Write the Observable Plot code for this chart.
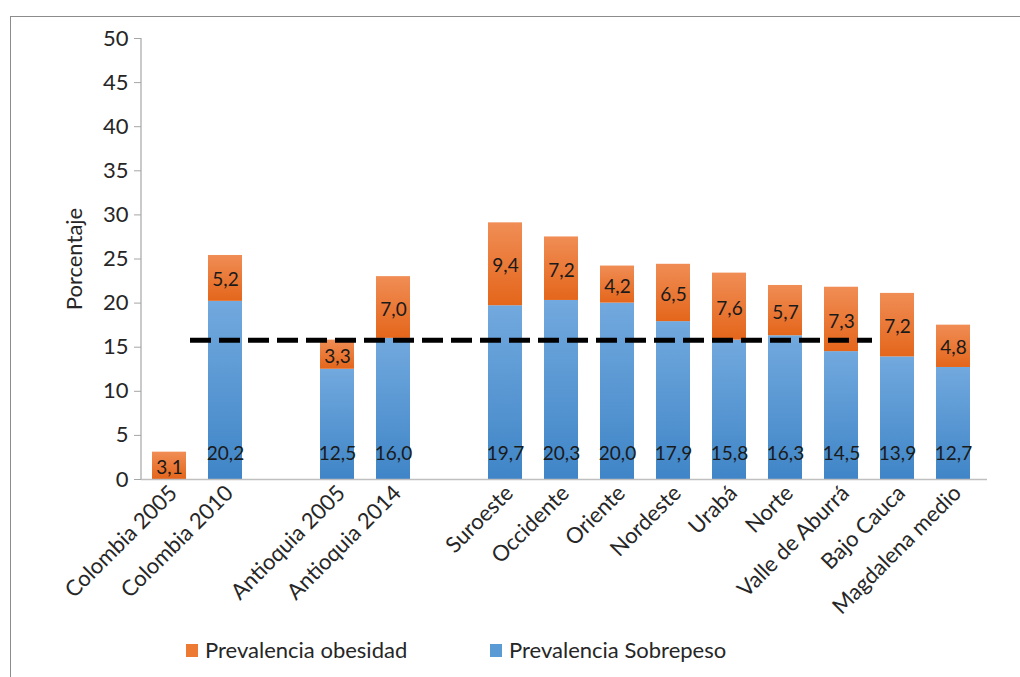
<!DOCTYPE html>
<html>
<head>
<meta charset="utf-8">
<script src="https://cdn.jsdelivr.net/npm/d3@7"></script>
<script src="https://cdn.jsdelivr.net/npm/@observablehq/plot@0.6"></script>
<style>
  html, body { margin: 0; padding: 0; background: #fff; }
  #wrap { position: relative; width: 1020px; height: 677px; overflow: hidden; font-family: Lato, "Open Sans", sans-serif; color: #262626; }
  #frame { position: absolute; left: 10px; top: 16px; width: 1100px; height: 800px; border: 1.5px solid #8c8c8c; box-sizing: border-box; pointer-events: none; }
  #chart { position: absolute; left: 0; top: 0; }
  #ylabel { position: absolute; left: 73px; top: 259px; transform: translate(-50%, -50%) rotate(-90deg); font-size: 22px; white-space: nowrap; }
  .leg { position: absolute; top: 636px; font-size: 22px; display: flex; align-items: center; white-space: nowrap; }
  .sw { width: 12px; height: 13px; margin-right: 7px; margin-top: 2px; }
</style>
</head>
<body>
<div id="wrap">
  <div id="frame"></div>
  <div id="chart"></div>
  <div id="ylabel">Porcentaje</div>
  <div class="leg" style="left:186px"><span class="sw" style="background:#ec7a32"></span>Prevalencia obesidad</div>
  <div class="leg" style="left:490px"><span class="sw" style="background:#5b9bd5"></span>Prevalencia Sobrepeso</div>
</div>
<script>
// Categories along the x axis; the two blank slots separate the groups
const categories = [
  "Colombia 2005", "Colombia 2010", " ",
  "Antioquia 2005", "Antioquia 2014", "  ",
  "Suroeste", "Occidente", "Oriente", "Nordeste", "Urabá",
  "Norte", "Valle de Aburrá", "Bajo Cauca", "Magdalena medio"
];
// Regions with data (same order as the bars)
const regions = [
  "Colombia 2005", "Colombia 2010", "Antioquia 2005", "Antioquia 2014",
  "Suroeste", "Occidente", "Oriente", "Nordeste", "Urabá",
  "Norte", "Valle de Aburrá", "Bajo Cauca", "Magdalena medio"
];
// Prevalencia de sobrepeso (%)
const sobrepeso = [null, 20.2, 12.5, 16.0, 19.7, 20.3, 20.0, 17.9, 15.8, 16.3, 14.5, 13.9, 12.7];
// Prevalencia de obesidad (%)
const obesidad = [3.1, 5.2, 3.3, 7.0, 9.4, 7.2, 4.2, 6.5, 7.6, 5.7, 7.3, 7.2, 4.8];
// Reference level drawn as a dashed line
const referencia = 15.8;
const yTicks = [0, 5, 10, 15, 20, 25, 30, 35, 40, 45, 50];

const rows = regions.map((r, i) => ({
  region: r,
  sob: sobrepeso[i],
  ob: obesidad[i],
  base: sobrepeso[i] ?? 0
}));
const fmt = v => v.toFixed(1).replace(".", ",");

// y-axis line drawn from the scales
const yAxisLine = (index, scales, values, dims) => {
  const g = d3.create("svg:line")
    .attr("x1", dims.marginLeft).attr("x2", dims.marginLeft)
    .attr("y1", scales.y(0)).attr("y2", scales.y(50))
    .attr("stroke", "#a6a6a6").attr("stroke-width", 1.2);
  return g.node();
};

const chart = Plot.plot({
  width: 1020,
  height: 630,
  marginTop: 38,
  marginBottom: 151,
  marginLeft: 141,
  marginRight: 38,
  style: { fontFamily: "Lato, 'Open Sans', sans-serif", fontSize: "22px", color: "#262626", background: "transparent" },
  x: { domain: categories, paddingInner: 0.39, paddingOuter: 0.195 },
  y: { domain: [0, 50] },
  marks: [
    Plot.barY(rows.filter(d => d.sob != null), {
      x: "region", y1: 0, y2: "sob", fill: "url(#gradBlue)"
    }),
    Plot.barY(rows, {
      x: "region", y1: "base", y2: d => d.base + d.ob, fill: "url(#gradOrange)"
    }),
    Plot.ruleY([0], { stroke: "#bfbfbf", strokeWidth: 1.5, insetRight: -5 }),
    Plot.ruleY([referencia], {
      x1: () => "Colombia 2005", x2: () => "Valle de Aburrá",
      insetLeft: 38, insetRight: -14,
      stroke: "#000", strokeWidth: 5, strokeDasharray: "21 8"
    }),
    Plot.text(rows, {
      x: "region", y: d => d.base + d.ob / 2, text: d => fmt(d.ob),
      fill: "#1a1a1a", fontSize: 19, dy: 2
    }),
    Plot.text(rows.filter(d => d.sob != null), {
      x: "region", y: 0, text: d => fmt(d.sob),
      fill: "#1a1a1a", fontSize: 19, dy: -26
    }),
    yAxisLine,
    Plot.axisY({
      ticks: yTicks, tickSize: 7, tickPadding: 6, label: null,
      stroke: "#a6a6a6", fill: "#262626", fontSize: 22
    }),
    Plot.axisX({
      tickSize: 0, tickRotate: -45, tickPadding: 10, label: null, dx: 4,
      tickFormat: d => d.trim(), fill: "#262626", fontSize: 22
    })
  ]
});

// Vertical gradients for the bar fills
const defs = d3.create("svg:defs");
const addGrad = (id, top, bottom) => {
  const g = defs.append("linearGradient").attr("id", id)
    .attr("x1", 0).attr("y1", 0).attr("x2", 0).attr("y2", 1);
  g.append("stop").attr("offset", "0%").attr("stop-color", top);
  g.append("stop").attr("offset", "100%").attr("stop-color", bottom);
};
addGrad("gradBlue", "#72a9de", "#3f85c7");
addGrad("gradOrange", "#f08d55", "#e4661b");
chart.insertBefore(defs.node(), chart.firstChild);

document.getElementById("chart").appendChild(chart);
</script>
</body>
</html>
